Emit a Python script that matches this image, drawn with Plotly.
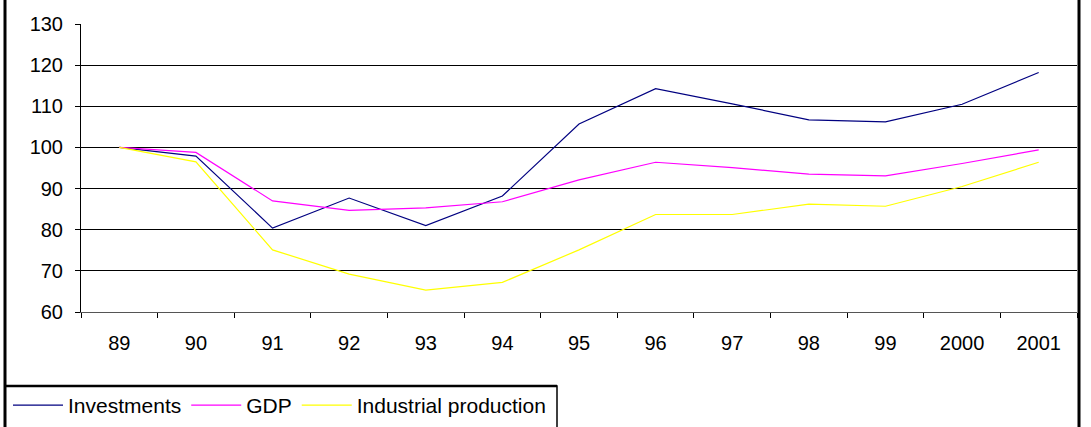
import plotly.graph_objects as go

# Index values, 1989 = 100
years = ["89", "90", "91", "92", "93", "94", "95", "96", "97", "98", "99", "2000", "2001"]
investments = [100, 97.9, 80.4, 87.7, 81.0, 88.2, 105.7, 114.3, 110.6, 106.7, 106.2, 110.5, 118.2]
gdp = [100, 98.8, 87.0, 84.7, 85.3, 86.8, 92.1, 96.4, 95.1, 93.5, 93.1, 96.1, 99.4]
industrial = [100, 96.5, 75.1, 69.2, 65.3, 67.2, 75.1, 83.7, 83.7, 86.2, 85.7, 90.5, 96.4]

series_names = ["Investments", "GDP", "Industrial production"]
series_colors = ["#000080", "#FF00FF", "#FFFF00"]

W, H = 1091, 427
L, R, T, B = 81, 14, 24, 115
pw, ph = W - L - R, H - T - B


def px_to_paper(x, y):
    return (x - L) / pw, (H - B - y) / ph


fig = go.Figure()
for name, vals, col in zip(series_names, [investments, gdp, industrial], series_colors):
    fig.add_trace(go.Scatter(x=years, y=vals, name=name, mode="lines",
                             line=dict(color=col, width=1.2)))

font = dict(family="Arial, Liberation Sans, sans-serif", size=20, color="#000000")

# outer frame edges and legend box
shapes = []
for fx in (5, 1079):
    x0, y0 = px_to_paper(fx, -5)
    x1, y1 = px_to_paper(fx, H + 5)
    shapes.append(dict(type="line", xref="paper", yref="paper", x0=x0, y0=y0, x1=x1, y1=y1,
                       line=dict(color="black", width=3)))
bx0, by0 = px_to_paper(5, 386)
bx1, by1 = px_to_paper(557, H + 10)
shapes.append(dict(type="rect", xref="paper", yref="paper", x0=bx0, y0=by1, x1=bx1, y1=by0,
                   line=dict(color="black", width=1.5), fillcolor="rgba(0,0,0,0)"))
shapes.append(dict(type="line", xref="paper", yref="paper", x0=bx0, y0=by0, x1=bx1, y1=by0,
                   line=dict(color="black", width=2.5)))

lx, ly = px_to_paper(8, 385)

fig.update_layout(
    width=W, height=H,
    margin=dict(l=L, r=R, t=T, b=B, autoexpand=False),
    paper_bgcolor="white", plot_bgcolor="white",
    font=font,
    showlegend=True,
    legend=dict(orientation="h", x=lx, y=ly, xanchor="left", yanchor="top",
                font=dict(family="Arial, Liberation Sans, sans-serif", size=21, color="black"),
                bgcolor="rgba(0,0,0,0)", borderwidth=0, itemwidth=50,
                tracegroupgap=0),
    shapes=shapes,
    xaxis=dict(type="category", tickson="boundaries", ticks="outside", ticklen=5,
               tickcolor="black", showline=True, linecolor="#555555", linewidth=1,
               showgrid=False, tickfont=font, range=[-0.5, 12.5], fixedrange=True,
               ticklabelstandoff=13),
    yaxis=dict(range=[60, 130], dtick=10, tick0=60, ticks="outside", ticklen=5,
               tickcolor="black", showline=True, linecolor="black", linewidth=1,
               showgrid=True, gridcolor="black", gridwidth=1, zeroline=False,
               tickfont=font, ticklabelstandoff=8),
)

fig.write_html("out.html")
